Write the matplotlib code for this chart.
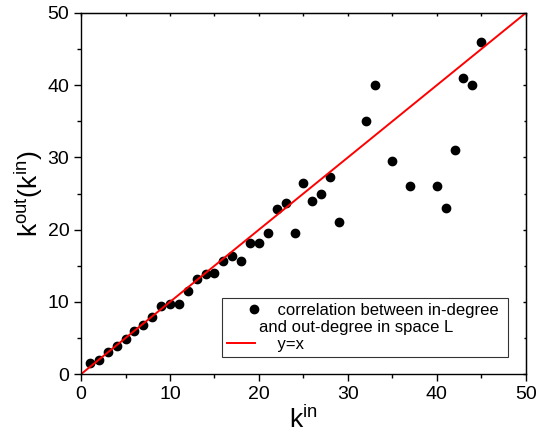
import matplotlib
matplotlib.use("Agg")
import matplotlib.pyplot as plt
from matplotlib.ticker import MultipleLocator, NullFormatter
from matplotlib.legend_handler import HandlerLine2D

plt.rcParams["font.family"] = ["Liberation Sans", "DejaVu Sans"]
plt.rcParams["mathtext.fontset"] = "custom"
plt.rcParams["mathtext.rm"] = "Liberation Sans"

# in-degree vs mean out-degree
k_in = [1, 2, 3, 4, 5, 6, 7, 8, 9, 10, 11, 12, 13, 14, 15, 16, 17, 18, 19, 20,
        21, 22, 23, 24, 25, 26, 27, 28, 29, 32, 33, 35, 37, 40, 41, 42, 43, 44, 45]
k_out = [1.5, 2.0, 3.1, 3.9, 4.9, 5.9, 6.8, 7.9, 9.4, 9.7, 9.7, 11.5, 13.1, 13.9,
         14.0, 15.6, 16.3, 15.7, 18.2, 18.1, 19.6, 22.8, 23.7, 19.6, 26.5, 24.0,
         25.0, 27.3, 21.0, 35.0, 40.0, 29.5, 26.0, 26.0, 23.0, 31.0, 41.0, 40.0, 46.0]
ref_line = [0, 50]


class ShiftHandler(HandlerLine2D):
    # Origin-like legend: marker beside the first text line, line running long
    def __init__(self, dx=0.0, dy=0.0, start=0.0, extend=0.0, **kw):
        super().__init__(**kw)
        self.dx, self.dy = dx, dy
        self.start, self.extend = start, extend

    def create_artists(self, legend, orig_handle, xdescent, ydescent,
                       width, height, fontsize, trans):
        arts = super().create_artists(legend, orig_handle, xdescent, ydescent,
                                      width, height, fontsize, trans)
        for a in arts:
            xs = list(a.get_xdata())
            if len(xs) == 2:
                xs[0] += self.start * fontsize
                xs[1] += self.extend * fontsize
            a.set_xdata([x + self.dx * fontsize for x in xs])
            a.set_ydata([y + self.dy * fontsize for y in a.get_ydata()])
        return arts


fig = plt.figure(figsize=(5.37, 4.33), dpi=100)
ax = fig.add_axes([0.151, 0.136, 0.828, 0.834])

pts, = ax.plot(k_in, k_out, "o", color="black", ms=6,
               label="    correlation between in-degree \nand out-degree in space L")
diag, = ax.plot(ref_line, ref_line, color="red", lw=1.4, label="    y=x")

ax.set_xlim(0, 50)
ax.set_ylim(0, 50)
for axis in (ax.xaxis, ax.yaxis):
    axis.set_major_locator(MultipleLocator(10))
    axis.set_minor_locator(MultipleLocator(5))
ax.tick_params(which="both", direction="out", labelsize=14, width=1)
ax.tick_params(which="major", length=5)
ax.tick_params(which="minor", length=3)

# inward mirror ticks on top and right, no labels
top = ax.secondary_xaxis("top")
right = ax.secondary_yaxis("right")
for axis in (top.xaxis, right.yaxis):
    axis.set_major_locator(MultipleLocator(10))
    axis.set_minor_locator(MultipleLocator(5))
    axis.set_major_formatter(NullFormatter())
    axis.set_minor_formatter(NullFormatter())
    axis.set_tick_params(which="both", direction="in", width=1)
    axis.set_tick_params(which="major", length=2.5)
    axis.set_tick_params(which="minor", length=1.8)

for sp in ax.spines.values():
    sp.set_linewidth(1)

ax.set_xlabel(r"$\mathregular{k^{in}}$", fontsize=19, labelpad=2)
ax.set_ylabel(r"$\mathregular{k^{out}(k^{in})}$", fontsize=19, labelpad=2)

leg = ax.legend(loc="lower right", bbox_to_anchor=(0.96, 0.047), fontsize=12,
                frameon=True, fancybox=False, edgecolor="black",
                borderaxespad=0, handlelength=1.7, handletextpad=0.2,
                borderpad=0.3, labelspacing=0.1,
                handler_map={pts: ShiftHandler(dx=0.78, dy=0.62),
                             diag: ShiftHandler(start=0.45, extend=1.08)})
leg.get_frame().set_linewidth(0.8)

fig.savefig("out.png", dpi=100)
